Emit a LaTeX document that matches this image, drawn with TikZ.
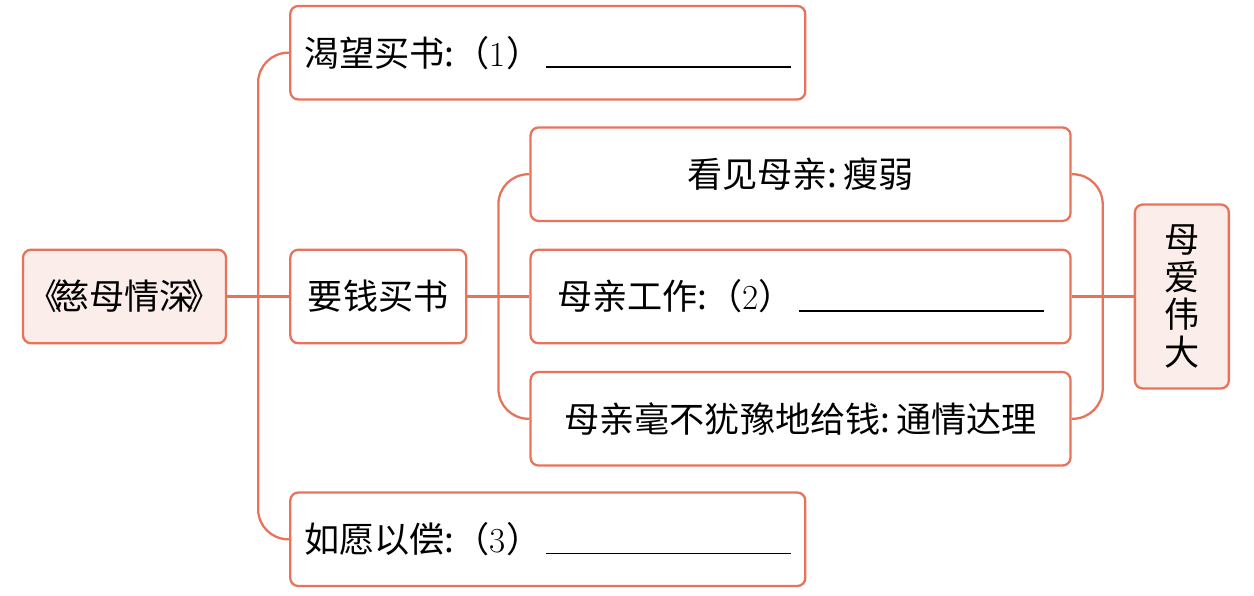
\documentclass[tikz,border=0pt]{standalone}
\usepackage{fontspec}
\newfontfamily\cjk{Noto Sans CJK SC}
\usetikzlibrary{positioning,calc}
\definecolor{mapline}{HTML}{E8735A}
\definecolor{mapfill}{HTML}{FBEDEA}
\newcommand{\blank}{\hspace{0.1cm}\rule[-1pt]{4.9cm}{0.8pt}}

\begin{document}
\begin{tikzpicture}[thin,node distance=1.24cm,font=\cjk\fontsize{20}{21.5}\selectfont]
\tikzstyle{box}=[draw=mapline,line width=1.3pt,rounded corners=0.16cm,minimum height=1.87cm,inner sep=0pt,align=center,text=black]
\tikzstyle{keybox}=[box,fill=mapfill]
\tikzstyle{link}=[draw=mapline,line width=1.3pt,rounded corners=0.6cm]

\useasboundingbox (0,0) rectangle (25.08,-11.92);

\node[keybox,minimum width=4.06cm]  (book) at (2.49,-5.93) {《\hspace{-0.25em}慈母情深\hspace{-0.25em}》};
\node[box,minimum width=3.52cm]     (ask)  [right=of book] {要钱买书};
\node[box,minimum width=10.3cm]     (want) [above=2.96cm of ask.north west,anchor=south west] {渴望买书:（{\rmfamily 1}）\blank};
\node[box,minimum width=10.3cm]     (wish) [below=2.94cm of ask.south west,anchor=north west] {如愿以偿:（{\rmfamily 3}）\blank};
\node[box,minimum width=10.8cm]     (work) [right=of ask] {母亲工作:（{\rmfamily 2}）\blank};
\node[box,minimum width=10.8cm]     (see)  [above=0.53cm of work] {看见母亲:\,瘦弱};
\node[box,minimum width=10.8cm]     (give) [below=0.53cm of work] {母亲毫不犹豫地给钱:\,通情达理};
\node[keybox,minimum width=1.88cm,minimum height=3.68cm] (love) [right=of work] {母\\爱\\伟\\大};

\coordinate (j1) at ($(book.east)!0.5!(ask.west)$);
\coordinate (j2) at ($(ask.east)!0.5!(work.west)$);
\coordinate (j3) at ($(work.east)!0.5!(love.west)$);

\path[link] (want.west) -| (j1) |- (wish.west);
\path[link] (book) -- (ask);
\path[link] (see.west) -| (j2) |- (give.west);
\path[link] (ask) -- (work);
\path[link] (see.east) -| (j3) |- (give.east);
\path[link] (work) -- (love);

\end{tikzpicture}
\end{document}
